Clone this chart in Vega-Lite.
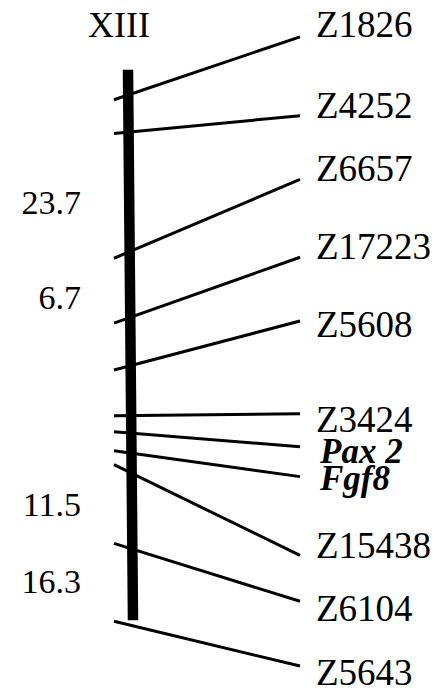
{
  "$schema": "https://vega.github.io/schema/vega-lite/v6.json",
  "width": 448,
  "height": 692,
  "padding": 0,
  "autosize": {"type": "fit", "contains": "padding"},
  "background": "white",
  "config": {"view": {"stroke": null}, "font": "Liberation Serif", "text": {"font": "Liberation Serif"}},
  "datasets": {
    "markers": [
      {"marker": "Z1826", "kind": "ssr", "chrPos": 100, "lineEnd": 37, "labelY": 37},
      {"marker": "Z4252", "kind": "ssr", "chrPos": 134, "lineEnd": 116, "labelY": 118},
      {"marker": "Z6657", "kind": "ssr", "chrPos": 259, "lineEnd": 180, "labelY": 182},
      {"marker": "Z17223", "kind": "ssr", "chrPos": 324, "lineEnd": 258, "labelY": 260},
      {"marker": "Z5608", "kind": "ssr", "chrPos": 371, "lineEnd": 322, "labelY": 338},
      {"marker": "Z3424", "kind": "ssr", "chrPos": 417, "lineEnd": 415, "labelY": 433},
      {"marker": "Pax 2", "kind": "gene", "chrPos": 433, "lineEnd": 448, "labelY": 464},
      {"marker": "Fgf8", "kind": "gene", "chrPos": 452, "lineEnd": 478, "labelY": 491},
      {"marker": "Z15438", "kind": "ssr", "chrPos": 466, "lineEnd": 557, "labelY": 560},
      {"marker": "Z6104", "kind": "ssr", "chrPos": 545, "lineEnd": 603, "labelY": 623},
      {"marker": "Z5643", "kind": "ssr", "chrPos": 623, "lineEnd": 668, "labelY": 687}
    ],
    "intervals": [
      {"cM": "23.7", "pos": 215},
      {"cM": "6.7", "pos": 310},
      {"cM": "11.5", "pos": 517},
      {"cM": "16.3", "pos": 595}
    ],
    "chromosome": [
      {"name": "XIII", "top": 70, "bottom": 622}
    ]
  },
  "layer": [
    {
      "data": {"name": "markers"},
      "mark": {"type": "rule", "strokeWidth": 3, "color": "black"},
      "encoding": {
        "x": {"datum": 114, "type": "quantitative", "scale": {"domain": [0, 448], "nice": false, "zero": false}, "axis": null},
        "x2": {"datum": 300},
        "y": {"field": "chrPos", "type": "quantitative", "scale": {"domain": [0, 692], "reverse": true, "nice": false, "zero": false}, "axis": null},
        "y2": {"field": "lineEnd"}
      }
    },
    {
      "data": {"name": "chromosome"},
      "mark": {"type": "rule", "strokeWidth": 10.5, "color": "black"},
      "encoding": {
        "x": {"datum": 128, "type": "quantitative", "scale": {"domain": [0, 448], "nice": false, "zero": false}, "axis": null},
        "x2": {"datum": 133},
        "y": {"field": "top", "type": "quantitative", "scale": {"domain": [0, 692], "reverse": true, "nice": false, "zero": false}, "axis": null},
        "y2": {"field": "bottom"}
      }
    },
    {
      "data": {"name": "chromosome"},
      "mark": {"type": "text", "font": "Liberation Serif", "fontSize": 36, "align": "center", "baseline": "alphabetic", "dy": -33, "color": "black"},
      "encoding": {
        "x": {"datum": 119, "type": "quantitative", "scale": {"domain": [0, 448], "nice": false, "zero": false}, "axis": null},
        "y": {"field": "top", "type": "quantitative", "scale": {"domain": [0, 692], "reverse": true, "nice": false, "zero": false}, "axis": null},
        "text": {"field": "name"}
      }
    },
    {
      "data": {"name": "markers"},
      "transform": [{"filter": "datum.kind === 'ssr'"}],
      "mark": {"type": "text", "font": "Liberation Serif", "fontSize": 37, "align": "left", "baseline": "alphabetic", "color": "black"},
      "encoding": {
        "x": {"datum": 316, "type": "quantitative", "scale": {"domain": [0, 448], "nice": false, "zero": false}, "axis": null},
        "y": {"field": "labelY", "type": "quantitative", "scale": {"domain": [0, 692], "reverse": true, "nice": false, "zero": false}, "axis": null},
        "text": {"field": "marker"}
      }
    },
    {
      "data": {"name": "markers"},
      "transform": [{"filter": "datum.kind === 'gene'"}],
      "mark": {"type": "text", "font": "Liberation Serif", "fontSize": 35, "fontStyle": "italic", "fontWeight": "bold", "align": "left", "baseline": "alphabetic", "color": "black"},
      "encoding": {
        "x": {"datum": 320, "type": "quantitative", "scale": {"domain": [0, 448], "nice": false, "zero": false}, "axis": null},
        "y": {"field": "labelY", "type": "quantitative", "scale": {"domain": [0, 692], "reverse": true, "nice": false, "zero": false}, "axis": null},
        "text": {"field": "marker"}
      }
    },
    {
      "data": {"name": "intervals"},
      "mark": {"type": "text", "font": "Liberation Serif", "fontSize": 34, "align": "right", "baseline": "alphabetic", "color": "black"},
      "encoding": {
        "x": {"datum": 81, "type": "quantitative", "scale": {"domain": [0, 448], "nice": false, "zero": false}, "axis": null},
        "y": {"field": "pos", "type": "quantitative", "scale": {"domain": [0, 692], "reverse": true, "nice": false, "zero": false}, "axis": null},
        "text": {"field": "cM"}
      }
    }
  ]
}
